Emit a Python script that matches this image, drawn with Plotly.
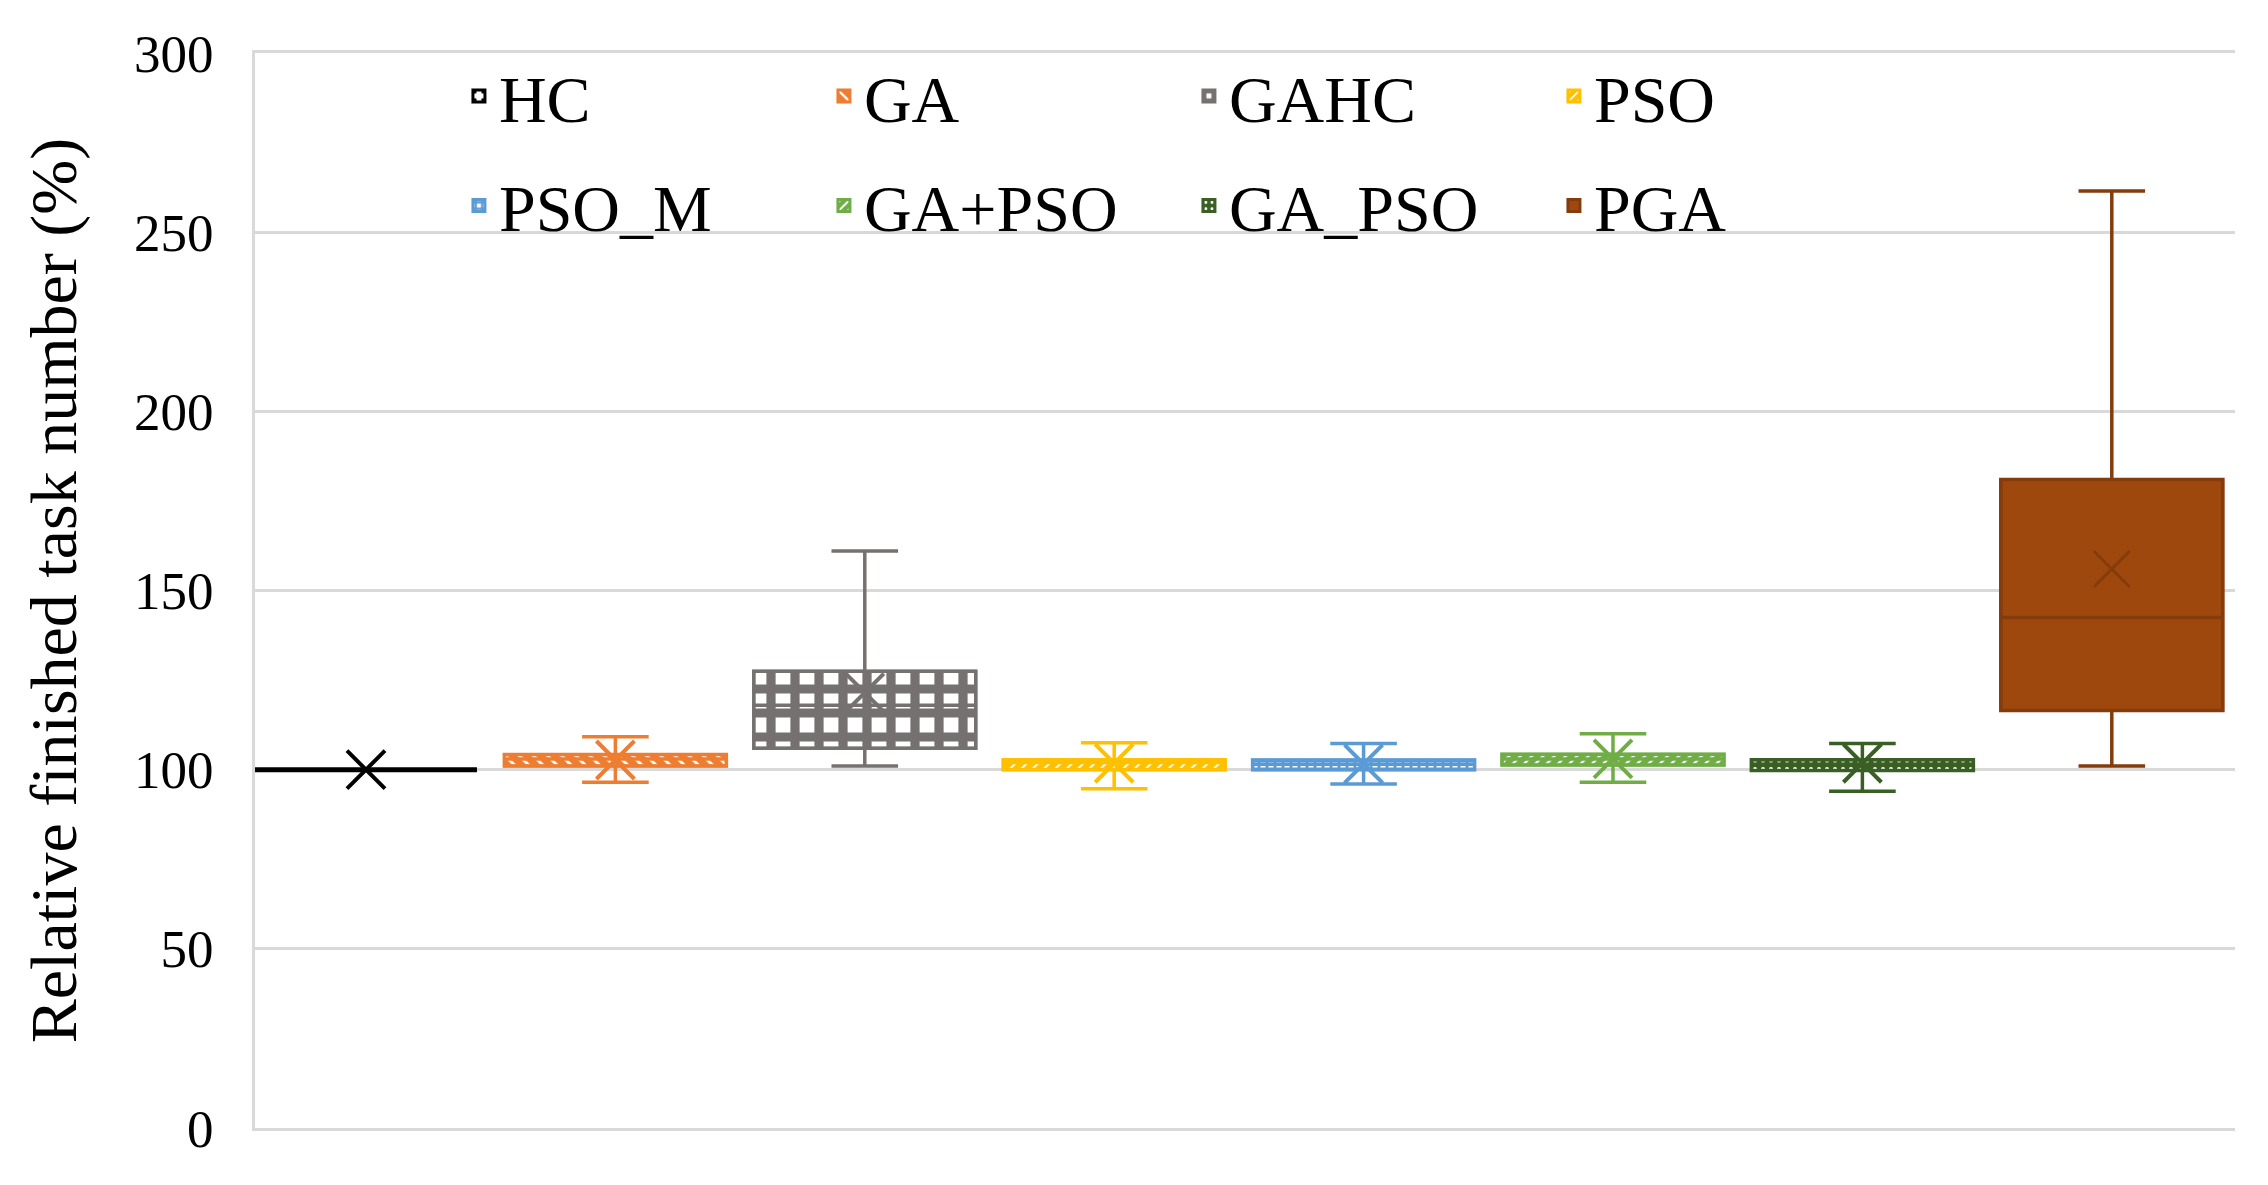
import plotly.graph_objects as go

# ---- data ----
categories = ["HC", "GA", "GAHC", "PSO", "PSO_M", "GA+PSO", "GA_PSO", "PGA"]
lower_fence = [100, 96.5, 101, 94.7, 96.0, 96.5, 94.0, 101]
q1_vals     = [100, 101.0, 106, 100.0, 100.0, 101.3, 99.8, 116.5]
median_vals = [100, 103.0, 118, 102.0, 101.5, 103.0, 101.5, 142.5]
q3_vals     = [100, 104.2, 127.5, 102.8, 102.7, 104.3, 102.8, 181.0]
upper_fence = [100, 109.2, 161, 107.5, 107.3, 110.0, 107.3, 261.5]
mean_vals   = [100, 102.7, 121.5, 101.8, 101.6, 103.0, 101.8, 156.0]

# ---- styles ----
colors = ["#FFFFFF", "#ED7D31", "#767171", "#FFC000", "#5B9BD5", "#70AD47", "#3A5F24", "#9E480E"]
line_colors = ["#000000", "#ED7D31", "#767171", "#FFC000", "#5B9BD5", "#70AD47", "#3A5F24", "#843C0C"]
patterns = [
    dict(shape=".", fgcolor="#000000", bgcolor="#FFFFFF", size=10, solidity=0.15, fgopacity=1),
    dict(shape="\\", fgcolor="#FFFFFF", bgcolor="#ED7D31", size=10, solidity=0.3, fgopacity=1),
    dict(shape="+", fgcolor="#767171", bgcolor="#FFFFFF", size=24, solidity=0.62, fgopacity=1),
    dict(shape="/", fgcolor="#FFFFFF", bgcolor="#FFC000", size=8, solidity=0.25, fgopacity=1),
    dict(shape="+", fgcolor="#5B9BD5", bgcolor="#FFFFFF", size=8, solidity=0.6, fgopacity=1),
    dict(shape="/", fgcolor="#FFFFFF", bgcolor="#70AD47", size=8, solidity=0.3, fgopacity=1),
    dict(shape=".", fgcolor="#FFFFFF", bgcolor="#3A5F24", size=8, solidity=0.2, fgopacity=1),
    dict(shape="", fgcolor="#9E480E", bgcolor="#9E480E"),
]
FONT = "Liberation Serif"
BOXW = 0.89

fig = go.Figure()

# pattern-filled box bodies (also provide the legend entries)
for i, c in enumerate(categories):
    fig.add_trace(go.Bar(
        x=[c], y=[q3_vals[i] - q1_vals[i]], base=[q1_vals[i]], width=BOXW,
        name=c,
        marker=dict(color=colors[i],
                    line=dict(color=line_colors[i], width=3),
                    pattern=patterns[i]),
        legend="legend" if i < 4 else "legend2",
        showlegend=True, hoverinfo="skip",
    ))

# box outlines, medians and whiskers
for i, c in enumerate(categories):
    fig.add_trace(go.Box(
        x=[c], q1=[q1_vals[i]], median=[median_vals[i]], q3=[q3_vals[i]],
        lowerfence=[lower_fence[i]], upperfence=[upper_fence[i]],
        width=BOXW, whiskerwidth=0.3, boxpoints=False,
        line=dict(color=line_colors[i], width=5 if i == 0 else 3.5),
        fillcolor="rgba(0,0,0,0)", showlegend=False,
    ))

# mean markers
for i, c in enumerate(categories):
    fig.add_trace(go.Scatter(
        x=[c], y=[mean_vals[i]], mode="markers", showlegend=False,
        marker=dict(symbol="x-thin", size=38 if i < 7 else 36,
                    line=dict(color=line_colors[i], width=4 if i < 7 else 3)),
    ))

grid = "#D9D9D9"
legend_common = dict(orientation="h", x=0.103, xanchor="left", yanchor="middle",
                     font=dict(size=66, family=FONT), bgcolor="rgba(0,0,0,0)",
                     entrywidth=320, entrywidthmode="pixels", itemclick=False)
fig.update_layout(
    width=2260, height=1177,
    margin=dict(l=247, r=33, t=45, b=57),
    paper_bgcolor="white", plot_bgcolor="white",
    barmode="overlay", boxmode="overlay",
    font=dict(family=FONT, color="black"),
    xaxis=dict(type="category", categoryorder="array", categoryarray=categories,
               range=[-0.445, 7.494], showticklabels=False, ticks="",
               showgrid=False, showline=True, mirror=True, linecolor=grid, linewidth=3,
               zeroline=False),
    yaxis=dict(range=[0, 300], dtick=50, tickfont=dict(size=53, family=FONT),
               showgrid=True, gridcolor=grid, gridwidth=3,
               showline=True, linecolor=grid, linewidth=3,
               zeroline=False, ticks="", ticklabelstandoff=28,
               title=dict(text="Relative finished task number (%)",
                          font=dict(size=66, family=FONT), standoff=36)),
    legend=dict(y=0.96, **legend_common),
    legend2=dict(y=0.858, **legend_common),
)

fig.write_html("out.html")
